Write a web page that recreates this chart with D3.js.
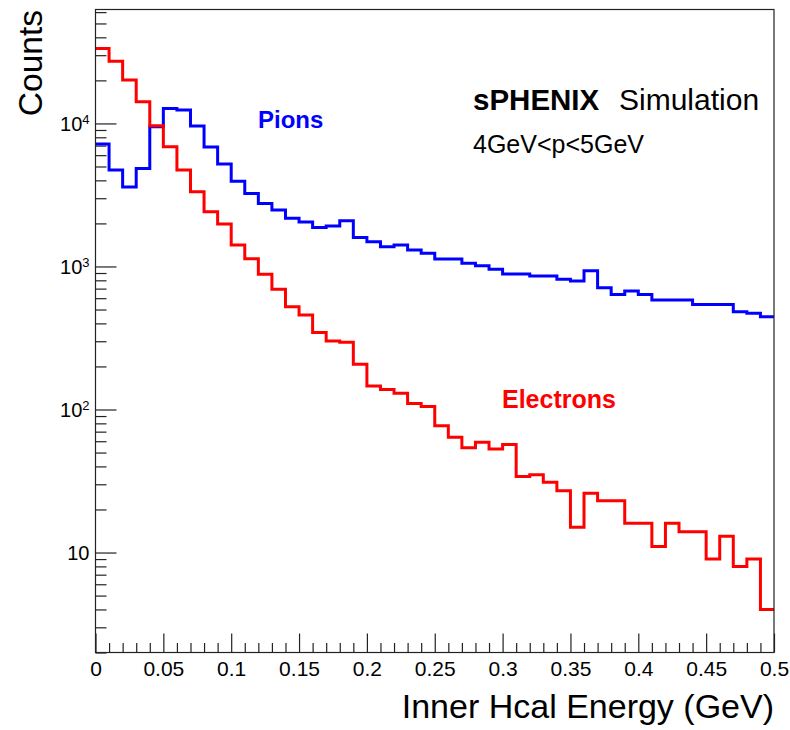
<!DOCTYPE html>
<html>
<head>
<meta charset="utf-8">
<script src="https://cdn.jsdelivr.net/npm/d3@7"></script>
<style>
  body { margin: 0; background: #fff; }
  svg text { font-family: "Liberation Sans", Arial, Helvetica, sans-serif; fill: #000; }
  .axis path { display: none; }
  .axis line { stroke: #222; stroke-width: 1.2; }
</style>
</head>
<body>
<div id="chart"></div>
<script>
// histogram binning: 50 bins from 0 to 0.5 GeV
var nBins = 50;
var xMin = 0, xMax = 0.5;
var yMin = 2, yMax = 62600;

// bin contents
var pions = [7170, 4720, 3600, 4850, 9470, 12700, 12400, 9580, 6850, 5200,
             3950, 3240, 2760, 2480, 2170, 2050, 1875, 1915, 2085, 1596,
             1490, 1374, 1412, 1303, 1237, 1127, 1127, 1052, 1012, 955,
             885, 885, 857, 857, 813, 791, 933, 709, 638, 673,
             638, 582, 582, 582, 543, 543, 543, 482, 470, 445];

var electrons = [33400, 27200, 20100, 14200, 9620, 6860, 4720, 3330, 2410, 1980,
                 1410, 1130, 881, 692, 522, 457, 346, 301, 295, 207,
                 146, 138, 130, 110, 105, 77, 64, 54, 59, 53,
                 57, 34, 35, 31, 27, 15, 26, 23, 23, 16,
                 16, 11, 16, 14, 14, 9, 13, 8, 9, 4];

var xMajorTicks = [0, 0.05, 0.1, 0.15, 0.2, 0.25, 0.3, 0.35, 0.4, 0.45, 0.5];
var xTickLabels = ["0", "0.05", "0.1", "0.15", "0.2", "0.25", "0.3", "0.35", "0.4", "0.45", "0.5"];
var yMajorTicks = [10, 100, 1000, 10000];
var yExponents = ["", "2", "3", "4"];

// Set up the chart
// ==========================================
var svgWidth = 790;
var svgHeight = 730;
var margin = { top: 9.5, right: 16, bottom: 77.5, left: 95.5 };
var width = svgWidth - margin.left - margin.right;
var height = svgHeight - margin.top - margin.bottom;

var svg = d3.select("#chart")
    .append("svg")
    .attr("width", svgWidth)
    .attr("height", svgHeight);

var chartGroup = svg.append("g")
    .attr("transform", `translate(${margin.left}, ${margin.top})`);

// scales
var xScale = d3.scaleLinear().domain([xMin, xMax]).range([0, width]);
var yScale = d3.scaleLog().domain([yMin, yMax]).range([height, 0]);

// x axis: major + minor ticks pointing into the frame
var xMinor = d3.range(0, 51).map(d => d / 100).filter(d => Math.round(d * 100) % 5 !== 0);

chartGroup.append("g")
    .attr("class", "axis")
    .attr("transform", `translate(0, ${height})`)
    .call(d3.axisBottom(xScale).tickValues(xMinor).tickSize(-9.5).tickFormat(""));

chartGroup.append("g")
    .attr("class", "axis")
    .attr("transform", `translate(0, ${height})`)
    .call(d3.axisBottom(xScale).tickValues(xMajorTicks).tickSize(-19).tickPadding(9)
        .tickFormat((d, i) => xTickLabels[i]))
    .selectAll("text")
    .style("font-size", "21px");

// y axis: log minor ticks
var yMinor = [];
[1, 10, 100, 1000, 10000].forEach(function(dec) {
    d3.range(2, 10).forEach(function(m) {
        var v = m * dec;
        if (v >= yMin && v <= yMax) yMinor.push(v);
    });
});

chartGroup.append("g")
    .attr("class", "axis")
    .call(d3.axisLeft(yScale).tickValues(yMinor).tickSize(-11).tickFormat(""));

var yAxisG = chartGroup.append("g")
    .attr("class", "axis")
    .call(d3.axisLeft(yScale).tickValues(yMajorTicks).tickSize(-21).tickPadding(6).tickFormat(""));

yAxisG.selectAll(".tick text").each(function(d, i) {
    var t = d3.select(this).attr("dy", "0.36em").style("font-size", "20px");
    t.append("tspan").text("10");
    if (yExponents[i]) {
        t.append("tspan").attr("dy", "-0.55em").style("font-size", "13px").text(yExponents[i]);
    }
});

// histograms as step lines
var edges = d3.range(0, nBins + 1).map(i => xMin + i * (xMax - xMin) / nBins);

var stepLine = d3.line()
    .x(d => xScale(d.x))
    .y(d => yScale(d.y))
    .curve(d3.curveStepAfter);

function histPoints(values) {
    var pts = values.map((v, i) => ({ x: edges[i], y: v }));
    pts.push({ x: edges[nBins], y: values[nBins - 1] });
    return pts;
}

chartGroup.append("path")
    .datum(histPoints(pions))
    .attr("d", stepLine)
    .attr("fill", "none")
    .attr("stroke", "#0000ff")
    .attr("stroke-width", 3);

chartGroup.append("path")
    .datum(histPoints(electrons))
    .attr("d", stepLine)
    .attr("fill", "none")
    .attr("stroke", "#ff0000")
    .attr("stroke-width", 3);

// frame
chartGroup.append("rect")
    .attr("width", width)
    .attr("height", height)
    .attr("fill", "none")
    .attr("stroke", "#222")
    .attr("stroke-width", 1.2);

// axis titles
svg.append("text")
    .attr("transform", "translate(42, 10) rotate(-90)")
    .style("text-anchor", "end")
    .style("font-size", "33.5px")
    .text("Counts");

svg.append("text")
    .attr("x", margin.left + width)
    .attr("y", 718)
    .style("text-anchor", "end")
    .style("font-size", "34px")
    .text("Inner Hcal Energy (GeV)");

// labels
svg.append("text")
    .attr("x", 473).attr("y", 110)
    .style("font-size", "29.5px").style("font-weight", "bold")
    .text("sPHENIX");

svg.append("text")
    .attr("x", 619).attr("y", 110)
    .style("font-size", "30px")
    .text("Simulation");

svg.append("text")
    .attr("x", 473).attr("y", 153)
    .style("font-size", "25px")
    .text("4GeV<p<5GeV");

svg.append("text")
    .attr("x", 258).attr("y", 128)
    .style("font-size", "24px").style("font-weight", "bold")
    .style("fill", "#0000ff")
    .text("Pions");

svg.append("text")
    .attr("x", 502).attr("y", 408)
    .style("font-size", "25px").style("font-weight", "bold")
    .style("fill", "#ff0000")
    .text("Electrons");
</script>
</body>
</html>
